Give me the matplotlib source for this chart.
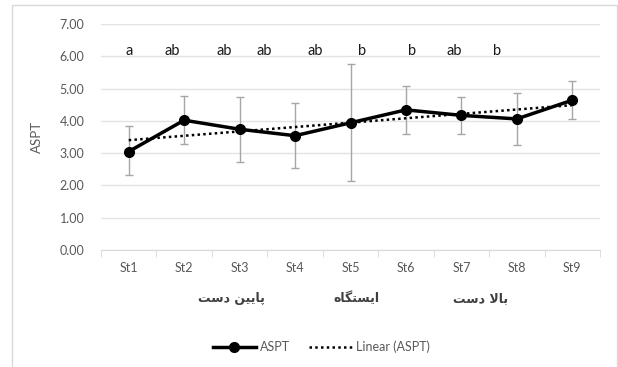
import numpy as np
import matplotlib.pyplot as plt
from matplotlib.patches import Rectangle
from matplotlib.lines import Line2D

plt.rcParams['font.family'] = ['Lato', 'DejaVu Sans']

stations = ["St1", "St2", "St3", "St4", "St5", "St6", "St7", "St8", "St9"]
aspt = [3.05, 4.02, 3.74, 3.54, 3.94, 4.34, 4.17, 4.06, 4.64]
err_up = [3.84, 4.77, 4.74, 4.56, 5.77, 5.09, 4.74, 4.86, 5.22]
err_low = [2.32, 3.28, 2.72, 2.54, 2.14, 3.59, 3.59, 3.25, 4.06]
letters = ["a", "ab", "ab", "ab", "ab", "b", "b", "ab", "b"]
letter_pos = [0, 0.78, 1.73, 2.45, 3.36, 4.21, 5.11, 5.88, 6.65]
# persian group labels, written in visual order with presentation forms
groups = ["\ufe96\ufeb3\ufea9 \ufee6\ufef4\ufef3\ufe8e\ufb58",
          "\ufee9\ufe8e\ufb95\ufe98\ufeb4\ufef3\ufe8d",
          "\ufe96\ufeb3\ufea9 \ufefb\ufe8e\ufe91"]
group_pos = [1.85, 4.1, 6.35]

grey = "#595959"
x = np.arange(len(stations))
y = np.array(aspt)
yerr = [y - np.array(err_low), np.array(err_up) - y]

fig = plt.figure(figsize=(6.18, 3.67), dpi=100)
fig.patches.append(Rectangle((12/618, -0.1), 605/618, 1.1 - 5/367, transform=fig.transFigure,
                             fill=False, edgecolor="#d9d9d9", linewidth=1))
ax = fig.add_axes([101/618, 1 - 250/367, 499/618, 226/367])

ax.errorbar(x, y, yerr=yerr, fmt="none", ecolor="#a6a6a6", elinewidth=1, capsize=3, capthick=1, zorder=2)
ax.plot(x, y, color="black", linewidth=2.5, marker="o", markersize=7, zorder=3)
k, b = np.polyfit(x, y, 1)
ax.plot(x, k * x + b, color="black", linewidth=1.8, linestyle=(0, (1, 1.3)), zorder=4)

for t, p in zip(letters, letter_pos):
    ax.text(p, 6.15, t, ha="center", va="center", fontsize=10.5, color="#1a1a1a")

ax.set_xlim(-0.5, len(stations) - 0.5)
ax.set_ylim(0, 7)
ax.set_yticks(np.arange(0, 8, 1))
ax.set_yticklabels([f"{v:.2f}" for v in range(8)])
ax.set_xticks(x)
ax.set_xticklabels(stations)
ax.set_xticks(np.arange(-0.5, len(stations), 1), minor=True)
ax.tick_params(axis="x", which="major", length=0, pad=9, labelsize=9, labelcolor=grey)
ax.tick_params(axis="x", which="minor", length=5, color="#d9d9d9", direction="out")
ax.tick_params(axis="y", length=0, pad=12, labelsize=9, labelcolor=grey)
ax.grid(axis="y", color="#e3e3e3", linewidth=1)
ax.set_axisbelow(True)
for s in ["top", "right", "left"]:
    ax.spines[s].set_visible(False)
ax.spines["bottom"].set_color("#d9d9d9")
ax.set_ylabel("ASPT", fontsize=9.5, color=grey, labelpad=12)

for t, p in zip(groups, group_pos):
    ax.text(p, -1.5, t, ha="center", va="center", fontsize=9, color="#404040",
            family=["DejaVu Sans"], fontweight="bold")

h1 = Line2D([], [], color="black", linewidth=2.5, marker="o", markersize=7)
h2 = Line2D([], [], color="black", linewidth=1.8, linestyle=(0, (1, 1.3)))
fig.legend([h1, h2], ["ASPT", "Linear (ASPT)"], loc="center", bbox_to_anchor=(0.52, 0.055),
           ncol=2, frameon=False, fontsize=9, labelcolor=grey, handlelength=3.5,
           columnspacing=1.5, handletextpad=0.3)

fig.savefig("out.png", dpi=100)
